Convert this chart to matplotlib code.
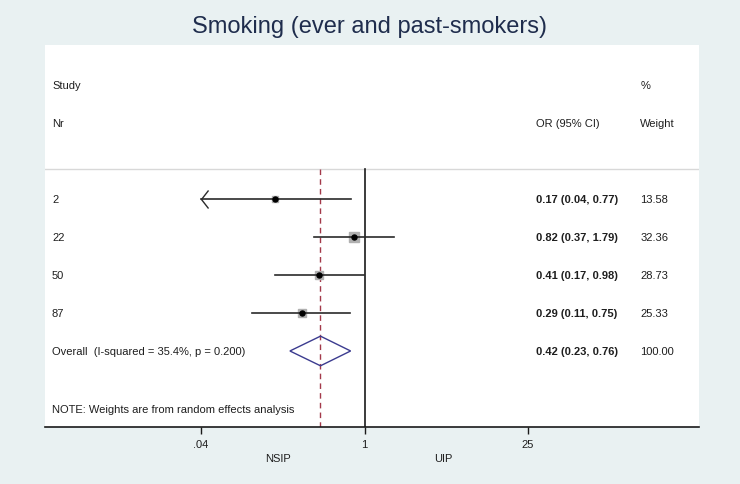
import matplotlib
matplotlib.use("Agg")
import matplotlib.pyplot as plt
from matplotlib.path import Path
import numpy as np

plt.rcParams['font.family'] = ['Liberation Sans', 'DejaVu Sans']

# ---- data ----
title = "Smoking (ever and past-smokers)"
studies = ["2", "22", "50", "87"]
odds = [0.17, 0.82, 0.41, 0.29]
ci_low = [0.04, 0.37, 0.17, 0.11]
ci_high = [0.77, 1.79, 0.98, 0.75]
weights = [13.58, 32.36, 28.73, 25.33]
overall_label = "Overall  (I-squared = 35.4%, p = 0.200)"
overall_or = 0.42
overall_low = 0.23
overall_high = 0.76
overall_weight = 100.00
low_arrow = [True, False, False, False]   # CI truncated at the axis minimum
tick_values = [0.04, 1, 25]
tick_labels = [".04", "1", "25"]
axis_min = 0.04
left_label = "NSIP"
right_label = "UIP"
note = "NOTE: Weights are from random effects analysis"

BG = "#e9f1f2"
TXT = "#1e1e1e"

fig = plt.figure(figsize=(7.4, 4.85), dpi=100, facecolor=BG)
W, H = 740, 485
# white panel: x 45..699, y 46..428 (pixels from top)
ax = fig.add_axes([45 / W, 1 - 428 / H, (699 - 45) / W, (428 - 46) / H])
ax.set_facecolor("white")
ax.set_xscale("log")
ax.set_xlim(0.00185, 725)
ax.set_ylim(6.0, -4.05)

for s in ["top", "left", "right"]:
    ax.spines[s].set_visible(False)
ax.spines["bottom"].set_color("#1a1a1a")
ax.spines["bottom"].set_linewidth(1.2)
ax.set_yticks([])
ax.set_xticks(tick_values)
ax.set_xticklabels(tick_labels)
ax.xaxis.set_minor_locator(matplotlib.ticker.NullLocator())
ax.tick_params(axis="x", direction="out", length=5, width=1, color="#1a1a1a",
               labelsize=8, labelcolor=TXT, pad=4)

sep_y = -0.8
ax.axhline(sep_y, color="#d8d8d8", lw=1)
ax.plot([1, 1], [sep_y, 6.0], color="#1a1a1a", lw=1.2, zorder=2)
ax.plot([overall_or, overall_or], [sep_y, 6.0], color="#a3394a", lw=1,
        dashes=(4, 3), zorder=2)

rows = np.arange(len(studies))
# squares sized by weight
for i in rows:
    side_px = 1.62 * np.sqrt(weights[i])
    ax.plot(odds[i], i, marker="s", ms=side_px / 1.389, color="#b0b0b0",
            mec="#b0b0b0", zorder=3)
    lo = max(ci_low[i], axis_min)
    ax.plot([lo, ci_high[i]], [i, i], color="#2a2a2a", lw=1.2, zorder=4)
    if low_arrow[i]:
        chevron = Path([(0.78, 1.0), (0.0, 0.0), (0.78, -1.0)],
                       [Path.MOVETO, Path.LINETO, Path.LINETO])
        ax.plot(lo, i, marker=chevron, ms=13, mfc="none", mec="#2a2a2a",
                mew=1.0, zorder=4)
    ax.plot(odds[i], i, marker="o", ms=3.6, color="black", zorder=5)

# overall diamond
oy = len(studies)
dh = 0.39
ax.fill([overall_low, overall_or, overall_high, overall_or, overall_low],
        [oy, oy - dh, oy, oy + dh, oy], facecolor="none", edgecolor="#3b3b8f",
        lw=1, zorder=4)

# text columns
tr = ax.get_yaxis_transform()  # x in axes fraction, y in data
xl, xor, xw = 0.0107, 0.751, 0.910
fs = 8
ax.text(xl, -3, "Study", transform=tr, va="center", ha="left", fontsize=fs, color=TXT)
ax.text(xl, -2, "Nr", transform=tr, va="center", ha="left", fontsize=fs, color=TXT)
ax.text(xor, -2, "OR (95% CI)", transform=tr, va="center", ha="left", fontsize=fs, color=TXT)
ax.text(xw, -3, "%", transform=tr, va="center", ha="left", fontsize=fs, color=TXT)
ax.text(xw, -2, "Weight", transform=tr, va="center", ha="left", fontsize=fs, color=TXT)
for i in rows:
    ax.text(xl, i, studies[i], transform=tr, va="center", ha="left", fontsize=fs, color=TXT)
    ax.text(xor, i, f"{odds[i]:.2f} ({ci_low[i]:.2f}, {ci_high[i]:.2f})", transform=tr,
            va="center", ha="left", fontsize=fs, color=TXT, fontweight="bold")
    ax.text(xw, i, f"{weights[i]:.2f}", transform=tr, va="center", ha="left",
            fontsize=fs, color=TXT)
ax.text(xl, oy, overall_label, transform=tr, va="center", ha="left", fontsize=fs, color=TXT)
ax.text(xor, oy, f"{overall_or:.2f} ({overall_low:.2f}, {overall_high:.2f})", transform=tr,
        va="center", ha="left", fontsize=fs, color=TXT, fontweight="bold")
ax.text(xw, oy, f"{overall_weight:.2f}", transform=tr, va="center", ha="left",
        fontsize=fs, color=TXT)
ax.text(xl, 5.53, note, transform=tr, va="center", ha="left", fontsize=fs, color=TXT)

# favours labels under the axis
bx = ax.get_xaxis_transform()
ax.text(0.182, -31 / 382, left_label, transform=bx, ha="center", va="center",
        fontsize=fs, color=TXT)
ax.text(4.69, -31 / 382, right_label, transform=bx, ha="center", va="center",
        fontsize=fs, color=TXT)

fig.text(0.5, 1 - 27 / H, title, ha="center", va="center", fontsize=17,
         color="#1f2d4d")

fig.savefig("out.png", dpi=100, facecolor=BG)
